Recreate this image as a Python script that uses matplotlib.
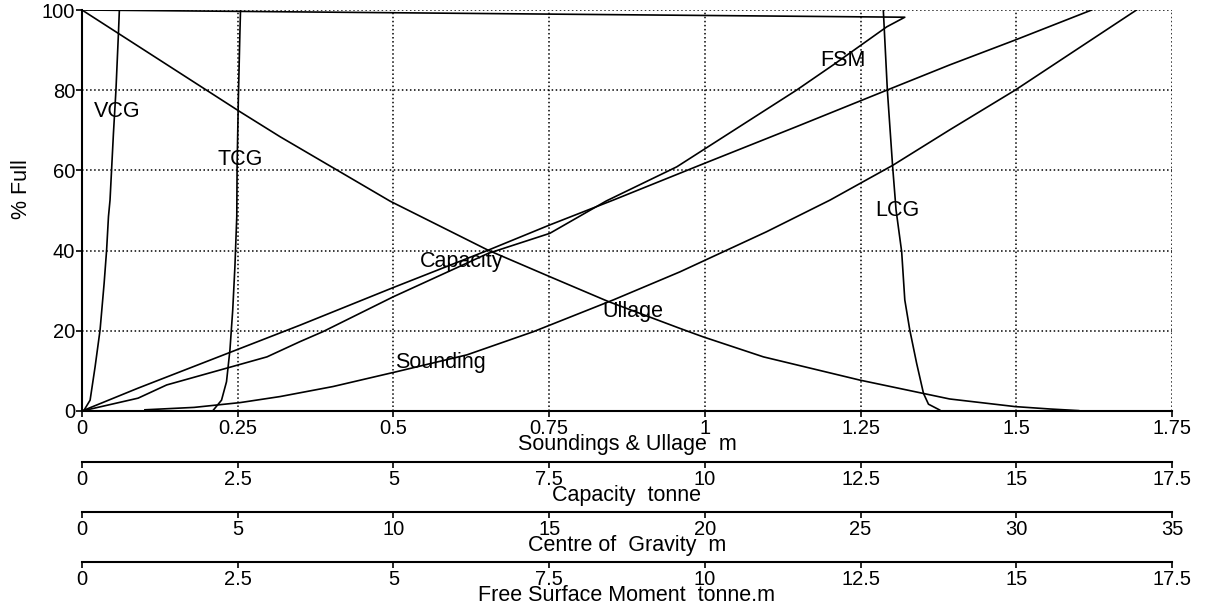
import matplotlib
matplotlib.use("Agg")
import matplotlib.pyplot as plt
from matplotlib.ticker import FuncFormatter

plt.rcParams['font.family'] = ['Liberation Sans', 'DejaVu Sans']

# sounding & ullage (m) vs % full
pct_sound = [0.3, 0.9, 2.1, 3.6, 6.1, 9.8, 14.0, 19.8, 27.7, 34.7, 44.7, 52.6, 61.3, 70.1, 80.0, 100]
sounding = [0.101, 0.18, 0.254, 0.318, 0.403, 0.505, 0.618, 0.725, 0.853, 0.960, 1.099, 1.201, 1.302, 1.393, 1.498, 1.693]

pct_ullage = [100, 74.6, 68.4, 52.3, 40.1, 33.5, 27.3, 20.6, 18.5, 13.5, 7.7, 3.0, 1.1, 0.5, 0.1]
ullage = [0, 0.254, 0.318, 0.495, 0.652, 0.751, 0.845, 0.960, 0.997, 1.094, 1.249, 1.393, 1.498, 1.554, 1.600]

# capacity (tonne)
pct_cap = [0, 5.7, 21.4, 30.8, 40.1, 46.4, 52.6, 61.3, 70.9, 80.0, 86.3, 92.5, 100]
capacity = [0, 0.90, 3.50, 5.00, 6.52, 7.51, 8.53, 9.92, 11.47, 12.92, 13.93, 14.98, 16.21]

# free surface moment (tonne.m)
pct_fsm = [0, 3.2, 6.5, 13.5, 17.3, 19.8, 28.5, 39.3, 44.3, 52.4, 60.9, 80.0, 86.3, 95.8, 98.2, 100]
fsm = [0, 0.90, 1.36, 2.97, 3.50, 3.87, 5.00, 6.52, 7.51, 8.42, 9.55, 11.47, 12.06, 12.92, 13.21, 0]

# centres of gravity (m)
pct_vcg = [0, 2.7, 11.0, 20.2, 31.8, 40.1, 48.5, 52.6, 69.3, 80.0, 94.2, 100]
vcg = [0.05, 0.26, 0.42, 0.58, 0.71, 0.79, 0.85, 0.90, 1.01, 1.09, 1.17, 1.20]

pct_tcg = [0.25, 2.7, 7.3, 15.2, 25.2, 36.0, 48.5, 60.9, 77.6, 94.2, 100]
tcg = [4.22, 4.48, 4.64, 4.75, 4.84, 4.91, 4.97, 4.98, 5.02, 5.07, 5.09]

pct_lcg = [0.25, 1.7, 4.4, 11.9, 20.2, 27.7, 39.7, 50.1, 60.9, 80.0, 100]
lcg = [27.54, 27.18, 27.02, 26.80, 26.58, 26.42, 26.32, 26.14, 26.03, 25.86, 25.73]

curve_labels = ['VCG', 'TCG', 'FSM', 'LCG', 'Capacity', 'Ullage', 'Sounding']
label_x = [0.019, 0.217, 1.185, 1.273, 0.543, 0.836, 0.5025]
label_y = [74.6, 62.6, 87.5, 49.9, 37.2, 24.7, 12.2]

fs_tick = 14.5
fs = 15.5
lw = 1.2
fmt = FuncFormatter(lambda v, p: '%g' % v)

fig = plt.figure(figsize=(12.07, 6.06), dpi=100)
ax = fig.add_axes([82 / 1207, 195 / 606, 1090 / 1207, 401 / 606])

def style_axis(a, xlim, step, label, offset):
    a.set_xlim(*xlim)
    a.set_xticks([i * step for i in range(8)])
    a.xaxis.set_major_formatter(fmt)
    a.xaxis.set_ticks_position('bottom')
    a.xaxis.set_label_position('bottom')
    a.tick_params(axis='x', direction='out', length=4, width=1.2, pad=2, labelsize=fs_tick)
    a.set_xlabel(label, fontsize=fs, labelpad=-3)
    for s in ['top', 'left', 'right']:
        a.spines[s].set_visible(False)
    a.spines['bottom'].set_linewidth(1.5)
    if offset:
        a.spines['bottom'].set_position(('outward', offset))

style_axis(ax, (0, 1.75), 0.25, 'Soundings & Ullage  m', 0)
ax.set_ylim(0, 100)
ax.set_yticks([0, 20, 40, 60, 80, 100])
ax.tick_params(axis='y', direction='out', length=4, width=1.2, pad=1, labelsize=fs_tick)
ax.spines['left'].set_visible(True)
ax.spines['left'].set_linewidth(1.5)
ax.set_ylabel('% Full', fontsize=fs)
ax.yaxis.set_label_coords(-0.046, 0.554)
ax.grid(True, linestyle=':', color='black', linewidth=1.1)

ax_cap = ax.twiny()
style_axis(ax_cap, (0, 17.5), 2.5, 'Capacity  tonne', 36.5)
ax_cg = ax.twiny()
style_axis(ax_cg, (0, 35), 5, 'Centre of  Gravity  m', 72.5)
ax_fsm = ax.twiny()
style_axis(ax_fsm, (0, 17.5), 2.5, 'Free Surface Moment  tonne.m', 108.5)

ax.plot(sounding, pct_sound, color='black', lw=lw)
ax.plot(ullage, pct_ullage, color='black', lw=lw)
ax_cap.plot(capacity, pct_cap, color='black', lw=lw)
ax_fsm.plot(fsm, pct_fsm, color='black', lw=lw)
ax_cg.plot(vcg, pct_vcg, color='black', lw=lw)
ax_cg.plot(tcg, pct_tcg, color='black', lw=lw)
ax_cg.plot(lcg, pct_lcg, color='black', lw=lw)

for name, x, y in zip(curve_labels, label_x, label_y):
    ax_fsm.text(x, y, name, transform=ax.transData, fontsize=fs, ha='left', va='center')

fig.savefig('out.png', dpi=100)
